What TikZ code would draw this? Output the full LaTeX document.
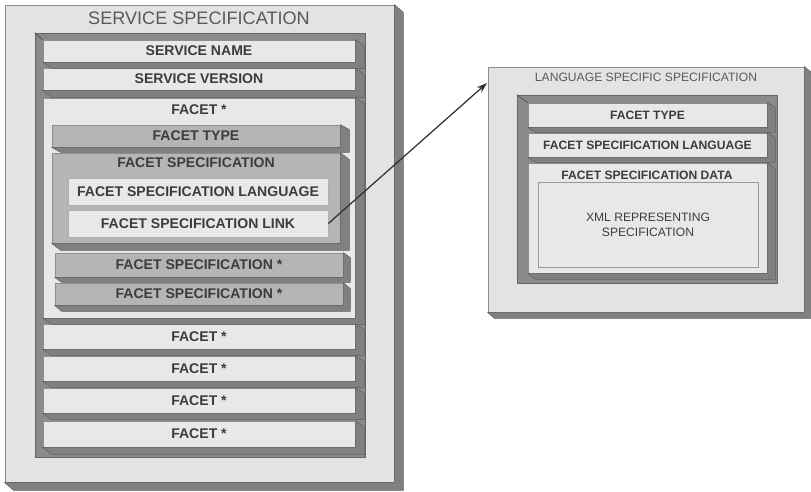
\documentclass[tikz,border=0pt]{standalone}
\usepackage{fontspec}
\setmainfont{Liberation Sans}
\usetikzlibrary{calc,arrows.meta}

\definecolor{panelgray}{HTML}{E3E3E3}
\definecolor{slabgray}{HTML}{E8E8E8}
\definecolor{midgray}{HTML}{B5B5B5}
\definecolor{traygray}{HTML}{8A8A8A}
\definecolor{sidegray}{HTML}{808080}
\definecolor{linegray}{HTML}{8E8E8E}
\definecolor{inkgray}{HTML}{3C3C3C}

\newcommand{\titlefont}{\fontsize{10.3}{12}\selectfont}
\newcommand{\rowfont}{\fontsize{8}{9.6}\selectfont\bfseries}
\newcommand{\subtitlefont}{\fontsize{6.9}{8}\selectfont}
\newcommand{\subrowfont}{\fontsize{6.9}{8.3}\selectfont\bfseries}

\begin{document}
\begin{tikzpicture}[x=0.02cm,y=-0.02cm,>=Stealth,
  span/.style 2 args = {minimum width=#1*0.02cm, minimum height=#2*0.02cm},
  panel/.style = {draw=linegray, fill=panelgray, line width=0.5pt, inner sep=0pt},
  tray/.style = {fill=traygray, draw=sidegray!80!black, line width=0.4pt, inner sep=0pt},
  slab/.style = {draw=linegray, fill=slabgray, line width=0.4pt, inner sep=0pt, text=inkgray, font=\rowfont},
  midslab/.style = {slab, fill=midgray},
  subslab/.style = {slab, font=\subrowfont},
  side/.style = {fill=sidegray, draw=sidegray!75!black, line width=0.3pt, line join=round},
  caption/.style = {inner sep=0pt, text=inkgray},
]
\useasboundingbox (0,0) rectangle (811,491);

% service specification panel
\node[panel, span={389}{477}] (svc) at (199.5,243.5) {};
\node[caption, text=inkgray!85, font=\titlefont] (svctitle) at (199,18) {SERVICE SPECIFICATION};
\node[tray, span={330}{424}] (svctray) at (200,245) {};
\node[slab, span={312}{22}] (sname) at (199,51) {SERVICE NAME};
\node[slab, span={312}{22}] (sver) at (199,79) {SERVICE VERSION};
\node[slab, span={312}{220}] (facet) at (199,208) {};
\node[caption, font=\rowfont] (facettitle) at (199,110) {FACET *};
\node[midslab, span={288}{22}] (ftype) at (196,136) {FACET TYPE};
\node[midslab, span={288}{90}] (fspec) at (196,198) {};
\node[caption, font=\rowfont] (fspectitle) at (196,163) {FACET SPECIFICATION};
\node[slab, draw=linegray!70, span={260}{27}] (flang) at (198,191.5) {FACET SPECIFICATION LANGUAGE};
\node[slab, draw=linegray!70, span={260}{27}] (flink) at (198,223.5) {FACET SPECIFICATION LINK};
\node[midslab, span={288}{24}] (fspecb) at (199,265) {FACET SPECIFICATION *};
\node[midslab, span={288}{22}] (fspecc) at (199,294) {FACET SPECIFICATION *};
\node[slab, span={312}{25}] (facetb) at (199,336.5) {FACET *};
\node[slab, span={312}{25}] (facetc) at (199,368.5) {FACET *};
\node[slab, span={312}{25}] (facetd) at (199,400.5) {FACET *};
\node[slab, span={312}{26}] (facete) at (199,434) {FACET *};

% language specific specification panel
\node[panel, span={316}{245}] (lss) at (646,189.5) {};
\node[caption, text=inkgray!85, font=\subtitlefont] (lsstitle) at (646,77) {LANGUAGE SPECIFIC SPECIFICATION};
\node[tray, span={260}{188}] (lsstray) at (647,189) {};
\node[subslab, span={239}{24}] (rtype) at (647.5,115) {FACET TYPE};
\node[subslab, span={239}{24}] (rlang) at (647.5,145) {FACET SPECIFICATION LANGUAGE};
\node[subslab, span={239}{110}] (rdata) at (647.5,218) {};
\node[caption, font=\subrowfont] (rdatatitle) at (647,175) {FACET SPECIFICATION DATA};
\node[slab, draw=linegray!90, font=\fontsize{6.9}{8.6}\selectfont, align=center,
      span={220}{85}] (rxml) at (648,224.5) {XML REPRESENTING\\SPECIFICATION};

% extruded right and bottom faces
\foreach \n/\dx/\dy in {svc/9/8, lss/7/6,
    sname/9/6, sver/9/7, facet/9/6, facetb/9/6, facetc/9/6, facetd/9/6, facete/9/7,
    ftype/9/5, fspec/9/7, fspecb/7/5, fspecc/7/6,
    rtype/8/5, rlang/8/5, rdata/8/6}
  \fill[side] (\n.north east) -- ++(\dx,\dy) -- ($(\n.south east)+(\dx,\dy)$)
    -- ($(\n.south west)+(\dx,\dy)$) -- (\n.south west) -- (\n.south east) -- cycle;

% bevels at the tray corners
\draw[sidegray!60!black, line width=0.4pt] (svctray.north west) -- (sname.north west);
\draw[sidegray!60!black, line width=0.4pt] (lsstray.north west) -- (rtype.north west);

% link to the language specific part
\coordinate (lssin) at (487,83);
\draw[->, inkgray!80!black, line width=0.7pt, >={Stealth[length=6pt,width=4pt]}] (flink.east) -- (lssin);
\end{tikzpicture}
\end{document}
